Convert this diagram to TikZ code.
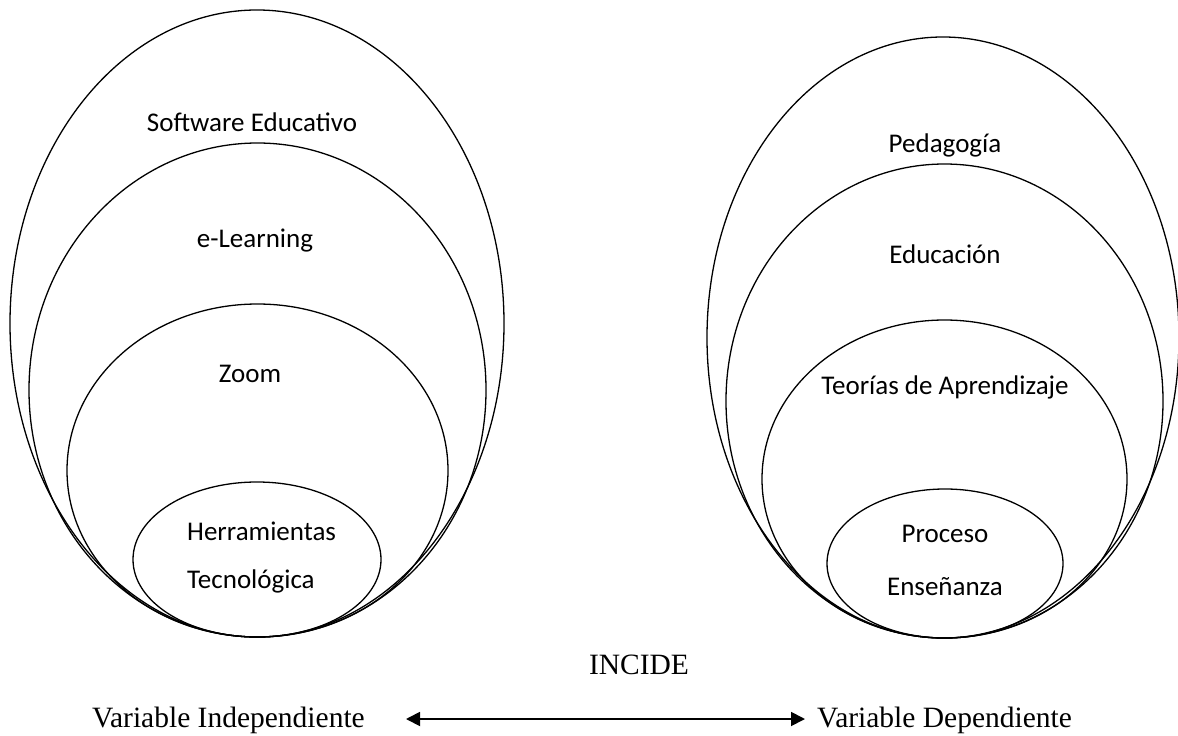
\documentclass[tikz,border=0pt]{standalone}
\usepackage{fontspec}
\setmainfont{Liberation Serif}
\newfontfamily\calibrifont{Carlito}
\usetikzlibrary{shapes.geometric,arrows.meta}
\tikzset{
  ring/.style={draw=black, line width=1.3pt, ellipse, inner sep=0pt, fill=none},
  lbl/.style={font=\calibrifont\fontsize{27}{32}\selectfont, inner sep=0pt, anchor=base},
  tnr/.style={font=\fontsize{29.5}{34}\selectfont, inner sep=0pt, anchor=base},
  link/.style={line width=1.8pt, {Triangle[length=14pt,width=14pt]}-{Triangle[length=14pt,width=14pt]}}
}
\begin{document}
\begin{tikzpicture}[x=1pt,y=-1pt]
\useasboundingbox[fill=white] (0,0) rectangle (1178,736);
% left group
\node[ring, minimum width=494pt, minimum height=627pt] (L1) at (257,323.5) {};
\node[ring, minimum width=457pt, minimum height=494pt] (L2) at (257.5,390) {};
\node[ring, minimum width=381pt, minimum height=333pt] (L3) at (257.5,470.5) {};
\node[ring, minimum width=248pt, minimum height=155pt] (L4) at (257,559.5) {};
% right group
\node[ring, minimum width=472pt, minimum height=601pt] (R1) at (943,337.5) {};
\node[ring, minimum width=437pt, minimum height=474pt] (R2) at (944.5,401) {};
\node[ring, minimum width=365pt, minimum height=318pt] (R3) at (944.5,479) {};
\node[ring, minimum width=236pt, minimum height=149pt] (R4) at (945,563.5) {};
% left labels
\node[lbl] (t1) at (252,131) {Software Educativo};
\node[lbl] (t2) at (255,247) {e-Learning};
\node[lbl] (t3) at (250,382) {Zoom};
\node[lbl, anchor=base west] (t4) at (187,540) {Herramientas};
\node[lbl, anchor=base west] (t5) at (187,588) {Tecnológica};
% right labels
\node[lbl] (u1) at (945,152) {Pedagogía};
\node[lbl] (u2) at (945,263) {Educación};
\node[lbl] (u3) at (945,394) {Teorías de Aprendizaje};
\node[lbl] (u4) at (945,542) {Proceso};
\node[lbl] (u5) at (945,595) {Enseñanza};
% bottom
\node[tnr] (inc) at (639,674) {INCIDE};
\node[tnr, anchor=base east] (vi) at (365,727) {Variable Independiente};
\node[tnr, anchor=base west] (vd) at (817,727) {Variable Dependiente};
\coordinate (a1) at (406,719);
\coordinate (a2) at (805,719);
\draw[link] (a1) -- (a2);
\end{tikzpicture}
\end{document}
